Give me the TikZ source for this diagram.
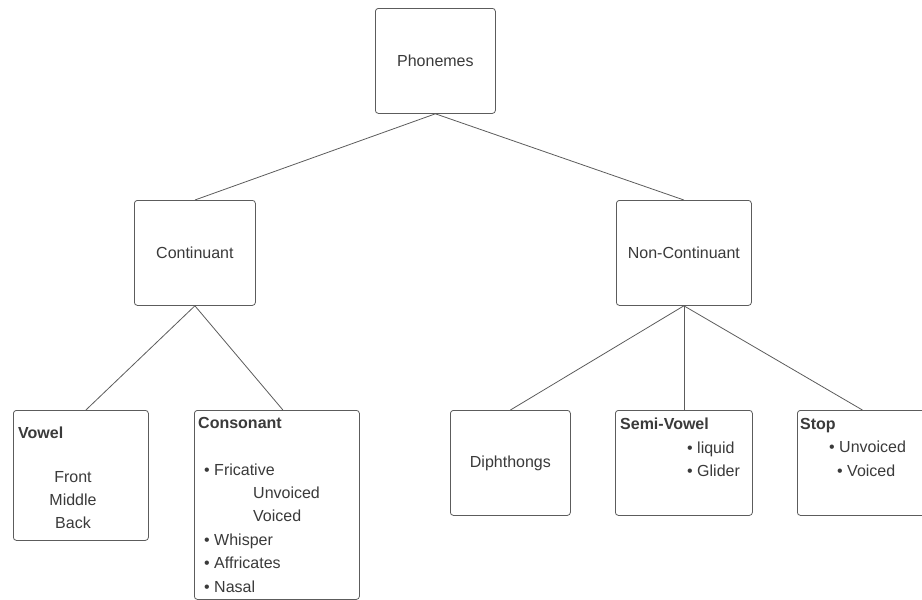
\documentclass[tikz,border=0pt]{standalone}
\usepackage{fontspec}
\setmainfont{Liberation Sans}
\usepackage{xcolor}
\usepackage{tikz}
\usetikzlibrary{positioning,calc}
\definecolor{phonline}{HTML}{5C5C5C}
\definecolor{phontext}{HTML}{3A3A3A}

\begin{document}
\begin{tikzpicture}[
    x=1pt, y=-1pt,
    every node/.style={text=phontext, font=\fontsize{16}{23.4}\selectfont},
    box/.style={rectangle, rounded corners=3pt, draw=phonline, fill=white, line width=0.8pt, inner sep=0pt, anchor=north west, align=center},
    lst/.style={anchor=north west, inner sep=0pt, align=left},
    link/.style={line width=0.8pt, draw=phonline}
]
    \useasboundingbox (0,0) rectangle (922,600);

    % Level 1
    \node (phon) [box, minimum width=120pt, minimum height=105pt] at (375,8) {Phonemes};

    % Level 2
    \node (cont) [box, minimum width=121pt, minimum height=105pt] at (134,200) {Continuant};
    \node (noncont) [box, minimum width=135pt, minimum height=105pt] at (616,200) {Non-Continuant};

    % Level 3
    \node (vowel) [box, minimum width=135pt, minimum height=130pt] at (13,410) {};
    \node (vhead) [lst] at (18,427) {\textbf{Vowel}};
    \node (vlist) [inner sep=0pt, align=center] at (73,500) {Front\\Middle\\Back};

    \node (cons) [box, minimum width=165pt, minimum height=189pt] at (194,410) {};
    \node (clist) [lst] at (198,417) {\textbf{Consonant}\\[23.4pt]
        \hspace*{6pt}• Fricative\\
        \hspace*{55pt}Unvoiced\\
        \hspace*{55pt}Voiced\\
        \hspace*{6pt}• Whisper\\
        \hspace*{6pt}• Affricates\\
        \hspace*{6pt}• Nasal};

    \node (diph) [box, minimum width=120pt, minimum height=105pt] at (450,410) {Diphthongs};

    \node (semi) [box, minimum width=137pt, minimum height=105pt] at (615,410) {};
    \node (slist) [lst] at (620,418) {\textbf{Semi-Vowel}\\
        \hspace*{67pt}• liquid\\
        \hspace*{67pt}• Glider};

    \node (stop) [box, minimum width=140pt, minimum height=105pt] at (797,410) {};
    \node (tlist) [lst] at (800,418) {\textbf{Stop}\\
        \hspace*{29pt}• Unvoiced\\
        \hspace*{37pt}• Voiced};

    % Connectors
    \draw [link] (phon.south) -- (cont.north);
    \draw [link] (phon.south) -- (noncont.north);
    \draw [link] (cont.south) -- ([xshift=5pt]vowel.north);
    \draw [link] (cont.south) -- ([xshift=6pt]cons.north);
    \draw [link] (noncont.south) -- (diph.north);
    \draw [link] (noncont.south) -- (semi.north);
    \draw [link] (noncont.south) -- ([xshift=-5pt]stop.north);
\end{tikzpicture}
\end{document}
